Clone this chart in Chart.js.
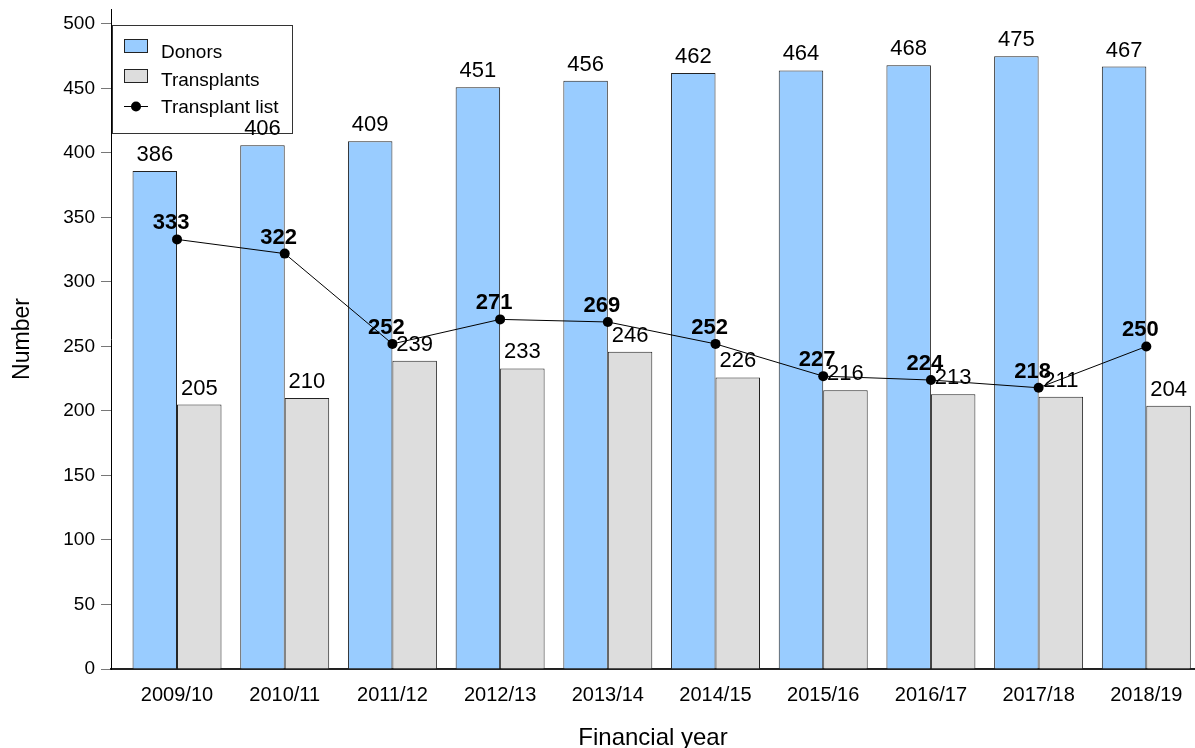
<!DOCTYPE html>
<html>
<head>
<meta charset="utf-8">
<title>Donors, transplants and transplant list</title>
<script src="https://cdn.jsdelivr.net/npm/chart.js@4/dist/chart.umd.min.js"></script>
<style>
  html, body { margin: 0; padding: 0; background: #fff; }
  #wrap { width: 1195px; height: 748px; }
</style>
</head>
<body>
<div id="wrap"><canvas id="myChart"></canvas></div>
<script>
let years = ['2009/10', '2010/11', '2011/12', '2012/13', '2013/14', '2014/15', '2015/16', '2016/17', '2017/18', '2018/19'];
let donors = [386, 406, 409, 451, 456, 462, 464, 468, 475, 467];
let transplants = [205, 210, 239, 233, 246, 226, 216, 213, 211, 204];
let transplantList = [333, 322, 252, 271, 269, 252, 227, 224, 218, 250];
let yTicks = [0, 50, 100, 150, 200, 250, 300, 350, 400, 450, 500];

const FONT = '"Liberation Sans", Arial, Helvetica, sans-serif';

// x positions are category indexes on a linear scale
function toPoints(values) {
    return values.map((v, i) => ({ x: i, y: v }));
}

function drawLegend(chart) {
    let ctx = chart.ctx;
    let left = chart.chartArea.left + 1;
    let top = 25;
    ctx.save();
    ctx.fillStyle = '#fff';
    ctx.fillRect(left, top, 181, 109);
    ctx.strokeStyle = '#333';
    ctx.lineWidth = 1;
    ctx.strokeRect(left + 0.5, top + 0.5, 180, 108);

    ctx.font = '19px ' + FONT;
    ctx.textAlign = 'left';
    ctx.textBaseline = 'alphabetic';
    let sets = chart.data.datasets;
    let rowY = [46, 76, 106];
    let textY = [58, 86, 113];
    for (let i = 0; i < sets.length; i++) {
        let ds = sets[i];
        if (ds.type === 'line') {
            ctx.strokeStyle = '#000';
            ctx.beginPath();
            ctx.moveTo(left + 12, rowY[i] + 0.5);
            ctx.lineTo(left + 36, rowY[i] + 0.5);
            ctx.stroke();
            ctx.fillStyle = '#000';
            ctx.beginPath();
            ctx.arc(left + 24, rowY[i] + 0.5, 5, 0, Math.PI * 2);
            ctx.fill();
        } else {
            ctx.fillStyle = ds.backgroundColor;
            ctx.fillRect(left + 12, rowY[i] - 7, 24, 14);
            ctx.strokeStyle = '#222';
            ctx.strokeRect(left + 12.5, rowY[i] - 6.5, 23, 13);
        }
        ctx.fillStyle = '#000';
        ctx.fillText(ds.label, left + 49, textY[i]);
    }
    ctx.restore();
}

let valuePlugin = {
    id: 'valueLabels',
    beforeDatasetsDraw(chart) {
        drawLegend(chart);
    },
    afterDatasetDraw(chart, args) {
        let ctx = chart.ctx;
        let ds = chart.data.datasets[args.index];
        ctx.save();
        ctx.fillStyle = '#000';
        ctx.textAlign = 'center';
        ctx.textBaseline = 'alphabetic';
        if (ds.type === 'line') {
            ctx.font = 'bold 22px ' + FONT;
            args.meta.data.forEach((pt, i) => ctx.fillText(ds.data[i].y, pt.x - 6, pt.y - 10));
        } else {
            ctx.font = '22px ' + FONT;
            args.meta.data.forEach((bar, i) => ctx.fillText(ds.data[i].y, bar.x, bar.y - 10));
        }
        ctx.restore();
    }
};

let ctx = document.getElementById('myChart').getContext('2d');
let chart = new Chart(ctx, {
    type: 'bar',
    data: {
        datasets: [
            {
                label: 'Donors',
                data: toPoints(donors),
                backgroundColor: '#99CCFF',
                borderColor: '#222',
                borderWidth: 1,
                order: 1
            },
            {
                label: 'Transplants',
                data: toPoints(transplants),
                backgroundColor: '#DDDDDD',
                borderColor: '#222',
                borderWidth: 1,
                order: 2
            },
            {
                type: 'line',
                label: 'Transplant list',
                data: toPoints(transplantList),
                borderColor: '#000',
                borderWidth: 1,
                backgroundColor: '#000',
                pointRadius: 5,
                pointBorderWidth: 0,
                pointBackgroundColor: '#000',
                order: 0
            }
        ]
    },
    options: {
        responsive: true,
        maintainAspectRatio: false,
        animation: false,
        layout: { autoPadding: false, padding: { top: 9, right: 0, left: 0, bottom: 0 } },
        datasets: {
            bar: { categoryPercentage: 0.826, barPercentage: 1, borderSkipped: 'start' }
        },
        plugins: {
            legend: { display: false },
            tooltip: { enabled: false }
        },
        scales: {
            x: {
                type: 'linear',
                min: -0.613,
                max: 9.452,
                offset: false,
                grid: { display: false, drawTicks: false, offset: false },
                border: { display: true, color: '#222', width: 2 },
                afterBuildTicks: (scale) => { scale.ticks = years.map((_, i) => ({ value: i })); },
                afterFit: (scale) => {
                    scale.height = 79;
                    scale.paddingLeft = 0;
                    scale.paddingRight = 0;
                },
                ticks: {
                    padding: 14,
                    color: '#000',
                    font: { family: FONT, size: 20 },
                    maxRotation: 0,
                    autoSkip: false,
                    callback: (v) => years[v]
                },
                title: {
                    display: true,
                    text: 'Financial year',
                    color: '#000',
                    padding: 0,
                    font: { family: FONT, size: 24, lineHeight: 0.8 }
                }
            },
            y: {
                min: 0,
                max: 511.6,
                grid: { drawOnChartArea: false, drawTicks: true, tickLength: 10, color: '#777', tickColor: '#777' },
                border: { display: true, color: '#000', width: 1 },
                afterBuildTicks: (scale) => { scale.ticks = yTicks.map((v) => ({ value: v })); },
                afterFit: (scale) => {
                    scale.width = 111;
                    scale.paddingTop = 0;
                    scale.paddingBottom = 0;
                },
                ticks: {
                    padding: 6,
                    color: '#000',
                    font: { family: FONT, size: 19 }
                },
                title: {
                    display: true,
                    text: 'Number',
                    color: '#000',
                    padding: { top: 9, bottom: 0 },
                    font: { family: FONT, size: 23 }
                }
            }
        }
    },
    plugins: [valuePlugin]
});
</script>
</body>
</html>
